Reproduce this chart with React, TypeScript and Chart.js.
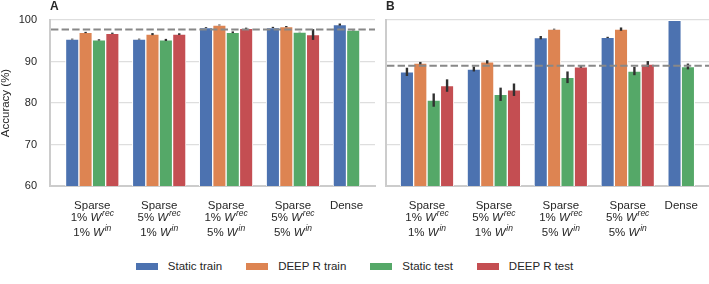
import React, { useEffect, useRef } from "react";
import { Chart, registerables } from "chart.js";

Chart.register(...registerables);

// ---------- data ----------
const categories: string[][] = [
  ["Sparse", "1% W^{rec}", "1% W^{in}"],
  ["Sparse", "5% W^{rec}", "1% W^{in}"],
  ["Sparse", "1% W^{rec}", "5% W^{in}"],
  ["Sparse", "5% W^{rec}", "5% W^{in}"],
  ["Dense"],
];
const seriesNames = ["Static train", "DEEP R train", "Static test", "DEEP R test"];
const seriesColors = ["#4C72B0", "#DD8452", "#55A868", "#C44E52"];
const yTickValues = [60, 70, 80, 90, 100];
const yAxisTitle = "Accuracy (%)";
const panelTitles = ["A", "B"];

// Panel A
const staticTrainA = [95.4, 95.4, 98.2, 98.2, 98.9];
const deepRTrainA = [97.0, 96.6, 98.8, 98.4, null];
const staticTestA = [95.2, 95.2, 97.05, 97.1, 97.6];
const deepRTestA = [96.8, 96.6, 98.0, 96.5, null];
const staticTrainErrA = [0.1, 0.1, 0.1, 0.15, 0.25];
const deepRTrainErrA = [0.15, 0.25, 0.1, 0.15, null];
const staticTestErrA = [0.15, 0.25, 0.2, 0.05, 0.1];
const deepRTestErrA = [0.15, 0.2, 0.15, 1.3, null];
const referenceA = 97.7;

// Panel B
const staticTrainB = [87.5, 88.2, 95.75, 95.8, 99.9];
const deepRTrainB = [89.6, 89.9, 97.8, 97.8, null];
const staticTestB = [80.7, 82.1, 86.2, 87.7, 88.8];
const deepRTestB = [84.2, 83.2, 88.7, 89.4, null];
const staticTrainErrB = [1.0, 0.6, 0.4, 0.15, 0.0];
const deepRTrainErrB = [0.3, 0.4, 0.1, 0.4, null];
const staticTestErrB = [1.6, 1.6, 1.4, 1.0, 0.7];
const deepRTestErrB = [1.5, 1.5, 0.2, 0.7, null];
const referenceB = 89.0;

// ---------- styling ----------
const FONT = "'Liberation Sans', Arial, Helvetica, sans-serif";
const TEXT = "#262626";
const SLOT = 0.2;

type Panel = {
  values: (number | null)[][];
  errors: (number | null)[][];
  reference: number;
  showYLabels: boolean;
  xMin: number;
  xMax: number;
  yAxisWidth: number;
  padRight: number;
};

const panels: Panel[] = [
  {
    values: [staticTrainA, deepRTrainA, staticTestA, deepRTestA],
    errors: [staticTrainErrA, deepRTrainErrA, staticTestErrA, deepRTestErrA],
    reference: referenceA,
    showYLabels: true,
    xMin: -0.632,
    xMax: 4.226,
    yAxisWidth: 50,
    padRight: 5,
  },
  {
    values: [staticTrainB, deepRTrainB, staticTestB, deepRTestB],
    errors: [staticTrainErrB, deepRTrainErrB, staticTestErrB, deepRTestErrB],
    reference: referenceB,
    showYLabels: false,
    xMin: -0.613,
    xMax: 4.215,
    yAxisWidth: 6,
    padRight: 0,
  },
];

function drawRichLine(ctx: CanvasRenderingContext2D, text: string, cx: number, baseline: number) {
  const size = 11.5;
  const m = text.match(/^(.*?)W\^\{(\w+)\}$/);
  ctx.fillStyle = TEXT;
  ctx.textBaseline = "alphabetic";
  if (!m) {
    ctx.font = `${size}px ${FONT}`;
    ctx.textAlign = "center";
    ctx.fillText(text, cx, baseline);
    return;
  }
  const pre = m[1];
  const sup = m[2];
  const fReg = `${size}px ${FONT}`;
  const fIt = `italic ${size}px ${FONT}`;
  const fSup = `italic 8.5px ${FONT}`;
  ctx.font = fReg;
  const w1 = ctx.measureText(pre).width;
  ctx.font = fIt;
  const w2 = ctx.measureText("W").width;
  ctx.font = fSup;
  const w3 = ctx.measureText(sup).width;
  const total = w1 + w2 + 0.8 + w3;
  let x = cx - total / 2;
  ctx.textAlign = "left";
  ctx.font = fReg;
  ctx.fillText(pre, x, baseline);
  x += w1;
  ctx.font = fIt;
  ctx.fillText("W", x, baseline);
  x += w2 + 0.8;
  ctx.font = fSup;
  ctx.fillText(sup, x, baseline - 4.8);
}

function buildChart(canvas: HTMLCanvasElement, panel: Panel) {
  const nGroups = categories.length;
  const datasets = seriesNames.map((name, s) => {
    const pts: { x: number; y: number }[] = [];
    const errs: number[] = [];
    panel.values[s].forEach((v, g) => {
      if (v == null) return;
      const slot = panel.values.slice(0, s).filter((arr) => arr[g] != null).length;
      pts.push({ x: g + (slot - 1.5) * SLOT, y: v });
      errs.push((panel.errors[s][g] as number) || 0);
    });
    return {
      type: "bar" as const,
      label: name,
      data: pts,
      errors: errs,
      backgroundColor: seriesColors[s],
      borderColor: "#ffffff",
      borderWidth: 1,
      borderSkipped: "start" as const,
      grouped: false,
      barThickness: 13.4,
    };
  });

  // tick centres: middle of each group's present bars
  const tickCenters: number[] = [];
  for (let g = 0; g < nGroups; g++) {
    const n = panel.values.filter((arr) => arr[g] != null).length;
    tickCenters.push(g + ((n - 1) / 2 - 1.5) * SLOT);
  }

  const overlay = {
    id: "overlay",
    afterDatasetsDraw(chart: any) {
      const ctx: CanvasRenderingContext2D = chart.ctx;
      const xs = chart.scales.x;
      const ys = chart.scales.y;
      const area = chart.chartArea;
      ctx.save();
      // error bars
      ctx.strokeStyle = "#303030";
      ctx.lineWidth = 2.4;
      ctx.lineCap = "butt";
      chart.data.datasets.forEach((ds: any) => {
        ds.data.forEach((p: any, i: number) => {
          const e = ds.errors[i];
          if (!e) return;
          const px = xs.getPixelForValue(p.x);
          ctx.beginPath();
          ctx.moveTo(px, ys.getPixelForValue(p.y - e));
          ctx.lineTo(px, ys.getPixelForValue(p.y + e));
          ctx.stroke();
        });
      });
      // reference dashed line
      const ry = ys.getPixelForValue(panel.reference);
      ctx.strokeStyle = "#888888";
      ctx.lineWidth = 2;
      ctx.setLineDash([7.4, 3.2]);
      ctx.beginPath();
      ctx.moveTo(area.left + 1, ry);
      ctx.lineTo(area.right, ry);
      ctx.stroke();
      ctx.setLineDash([]);
      ctx.restore();
    },
    afterDraw(chart: any) {
      const ctx: CanvasRenderingContext2D = chart.ctx;
      const xs = chart.scales.x;
      const bottom = chart.chartArea.bottom;
      const offsets = [23.3, 34.7, 49.7];
      ctx.save();
      categories.forEach((lines, g) => {
        const cx = xs.getPixelForValue(tickCenters[g]);
        lines.forEach((line, li) => drawRichLine(ctx, line, cx, bottom + offsets[li]));
      });
      ctx.restore();
    },
  };

  return new Chart(canvas, {
    type: "bar",
    data: { datasets: datasets as any },
    options: {
      responsive: false,
      animation: false,
      layout: { padding: { top: 20, right: panel.padRight, left: 0, bottom: 0 } },
      plugins: {
        legend: { display: false },
        tooltip: { enabled: false },
        title: { display: false },
      },
      scales: {
        x: {
          type: "linear",
          min: panel.xMin,
          max: panel.xMax,
          offset: false,
          ticks: { display: false },
          grid: { display: false, drawTicks: false },
          border: { display: true, color: "#cccccc", width: 2 },
          afterFit: (scale: any) => {
            scale.height = 64;
          },
        },
        y: {
          type: "linear",
          min: yTickValues[0],
          max: yTickValues[yTickValues.length - 1],
          afterBuildTicks: (scale: any) => {
            scale.ticks = yTickValues.map((v) => ({ value: v }));
          },
          ticks: {
            display: panel.showYLabels,
            padding: 13,
            color: TEXT,
            font: { family: FONT, size: 11 },
          },
          grid: { color: "#dedede", lineWidth: 1.3, drawTicks: false, tickLength: 0 },
          border: { display: true, color: "#cccccc", width: 2 },
          title: {
            display: panel.showYLabels,
            text: yAxisTitle,
            color: TEXT,
            font: { family: FONT, size: 11.5, lineHeight: 1.05 },
            padding: { top: 0, bottom: 0 },
          },
          afterFit: (scale: any) => {
            scale.width = panel.yAxisWidth;
          },
        },
      },
    } as any,
    plugins: [overlay],
  });
}

export default function App() {
  const refA = useRef<HTMLCanvasElement>(null);
  const refB = useRef<HTMLCanvasElement>(null);

  useEffect(() => {
    const charts: Chart[] = [];
    if (refA.current) charts.push(buildChart(refA.current, panels[0]));
    if (refB.current) charts.push(buildChart(refB.current, panels[1]));
    return () => charts.forEach((c) => c.destroy());
  }, []);

  const titleStyle = (left: number): React.CSSProperties => ({
    position: "absolute",
    left,
    top: 0,
    font: `bold 12px ${FONT}`,
    lineHeight: "12px",
    color: TEXT,
  });

  return (
    <div
      style={{
        position: "fixed",
        left: 0,
        top: 0,
        width: 709,
        height: 284,
        overflow: "hidden",
        background: "#ffffff",
        fontFamily: FONT,
      }}
    >
      <canvas
        ref={refA}
        width={380}
        height={250}
        style={{ position: "absolute", left: 0, top: 0, width: 380, height: 250 }}
      />
      <canvas
        ref={refB}
        width={329}
        height={250}
        style={{ position: "absolute", left: 380, top: 0, width: 329, height: 250 }}
      />
      <div style={titleStyle(50)}>{panelTitles[0]}</div>
      <div style={titleStyle(386)}>{panelTitles[1]}</div>
      <div
        style={{
          position: "absolute",
          left: 0,
          top: 259,
          width: 709,
          height: 15,
          display: "flex",
          alignItems: "center",
          justifyContent: "center",
          fontSize: 11.5,
          lineHeight: "15px",
          color: TEXT,
        }}
      >
        {seriesNames.map((name, i) => (
          <div
            key={name}
            style={{ display: "flex", alignItems: "center", marginLeft: i === 0 ? 0 : 24 }}
          >
            <span
              style={{
                display: "inline-block",
                width: 22,
                height: 7,
                background: seriesColors[i],
                marginRight: 10,
              }}
            />
            <span style={{ whiteSpace: "nowrap" }}>{name}</span>
          </div>
        ))}
      </div>
    </div>
  );
}
